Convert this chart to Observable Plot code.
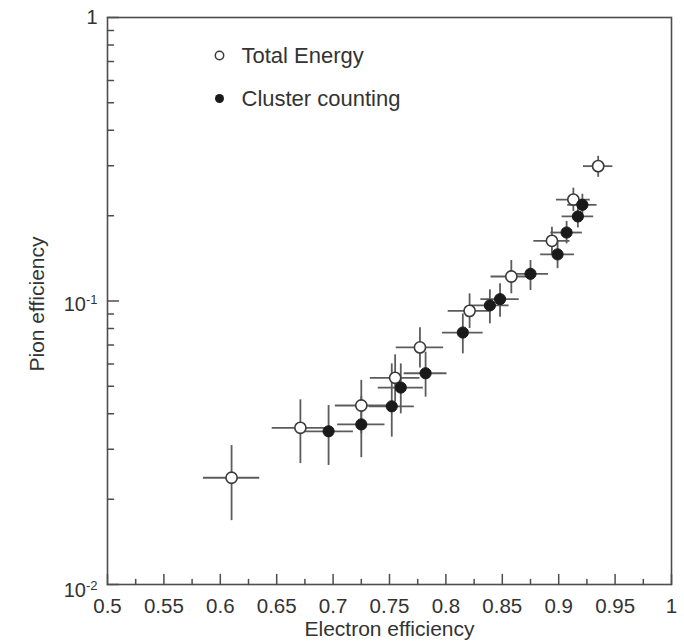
<!DOCTYPE html>
<html>
<head>
<meta charset="utf-8">
<script src="https://cdn.jsdelivr.net/npm/d3@7"></script>
<script src="https://cdn.jsdelivr.net/npm/@observablehq/plot@0.6"></script>
<style>
  html, body { margin: 0; padding: 0; background: #fff; }
  #chart svg { font-family: "Liberation Sans", Arial, Helvetica, sans-serif; }
</style>
</head>
<body>
<div id="chart"></div>
<script>
// Total Energy (open circles)
const teX    = [0.610, 0.671, 0.725, 0.755, 0.777, 0.821, 0.858, 0.894, 0.913, 0.935];
const teY    = [0.0238, 0.0357, 0.0428, 0.0536, 0.0686, 0.0923, 0.122, 0.163, 0.228, 0.299];
const teXerr = [0.025, 0.025, 0.023, 0.022, 0.021, 0.019, 0.018, 0.016, 0.015, 0.013];
const teYlo  = [0.0168, 0.0267, 0.034, 0.044, 0.058, 0.080, 0.106, 0.146, 0.207, 0.273];
const teYhi  = [0.0309, 0.0448, 0.0525, 0.0646, 0.0804, 0.106, 0.139, 0.182, 0.250, 0.324];

// Cluster counting (filled circles)
const ccX    = [0.696, 0.725, 0.752, 0.760, 0.782, 0.815, 0.839, 0.848, 0.875, 0.899, 0.907, 0.917, 0.921];
const ccY    = [0.0347, 0.0367, 0.0425, 0.0495, 0.0556, 0.0774, 0.0965, 0.1015, 0.1247, 0.146, 0.1744, 0.1987, 0.2184];
const ccXerr = [0.022, 0.021, 0.020, 0.020, 0.019, 0.018, 0.017, 0.017, 0.016, 0.015, 0.014, 0.014, 0.013];
const ccYlo  = [0.0263, 0.028, 0.0331, 0.040, 0.0458, 0.0651, 0.0831, 0.0877, 0.1089, 0.130, 0.159, 0.181, 0.200];
const ccYhi  = [0.0428, 0.046, 0.060, 0.060, 0.066, 0.090, 0.1095, 0.115, 0.139, 0.163, 0.1908, 0.218, 0.238];

// Axis ticks
const xTicks = [0.5, 0.55, 0.6, 0.65, 0.7, 0.75, 0.8, 0.85, 0.9, 0.95, 1];
const xTickLabels = ["0.5", "0.55", "0.6", "0.65", "0.7", "0.75", "0.8", "0.85", "0.9", "0.95", "1"];
const xMinor = [0.525, 0.575, 0.625, 0.675, 0.725, 0.775, 0.825, 0.875, 0.925, 0.975];
const yTicks = [0.01, 0.1, 1];
const yTickLabels = ["10^-2", "10^-1", "1"];
const yMinor = [0.02, 0.03, 0.04, 0.05, 0.06, 0.07, 0.08, 0.09, 0.2, 0.3, 0.4, 0.5, 0.6, 0.7, 0.8, 0.9];

const legendLabels = ["Total Energy", "Cluster counting"];
const xLabel = "Electron efficiency";
const yLabel = "Pion efficiency";

const mk = (X, Y, XE, YL, YH) => X.map((x, i) => ({x, y: Y[i], x1: x - XE[i], x2: x + XE[i], y1: YL[i], y2: YH[i]}));
const te = mk(teX, teY, teXerr, teYlo, teYhi);
const cc = mk(ccX, ccY, ccXerr, ccYlo, ccYhi);

const upTick = {draw(ctx, l) { ctx.moveTo(0, 0); ctx.lineTo(0, -l); }};
const rightTick = {draw(ctx, l) { ctx.moveTo(0, 0); ctx.lineTo(l, 0); }};

const axisColor = "#4d4d4d";
const barColor = "#5c5c5c";
const textColor = "#333";

const chart = Plot.plot({
  width: 684,
  height: 641,
  marginLeft: 107,
  marginRight: 13,
  marginTop: 17,
  marginBottom: 57,
  x: {domain: [0.5, 1], axis: null},
  y: {type: "log", domain: [0.01, 1], axis: null},
  marks: [
    Plot.axisX({ticks: xTicks, tickSize: 0, tickPadding: 14, fontSize: 20.5, fill: textColor, label: null,
      tickFormat: d => xTickLabels[xTicks.indexOf(d)]}),
    Plot.axisY({ticks: yTicks, tickSize: 0, tickPadding: 10, fontSize: 20, fill: textColor, label: null,
      tickFormat: d => yTickLabels[yTicks.indexOf(d)]}),
    Plot.vector(xTicks, {x: d => d, frameAnchor: "bottom", length: 10, anchor: "start", shape: upTick, stroke: axisColor, strokeWidth: 1.5}),
    Plot.vector(xMinor, {x: d => d, frameAnchor: "bottom", length: 5, anchor: "start", shape: upTick, stroke: axisColor, strokeWidth: 1.5}),
    Plot.vector(yTicks, {y: d => d, frameAnchor: "left", length: 11, anchor: "start", shape: rightTick, stroke: axisColor, strokeWidth: 1.5}),
    Plot.vector(yMinor, {y: d => d, frameAnchor: "left", length: 6, anchor: "start", shape: rightTick, stroke: axisColor, strokeWidth: 1.5}),
    Plot.frame({stroke: axisColor, strokeWidth: 1.6}),
    // error bars
    Plot.ruleX(te, {x: "x", y1: "y1", y2: "y2", stroke: barColor, strokeWidth: 1.8}),
    Plot.ruleY(te, {y: "y", x1: "x1", x2: "x2", stroke: barColor, strokeWidth: 1.8}),
    Plot.ruleX(cc, {x: "x", y1: "y1", y2: "y2", stroke: barColor, strokeWidth: 1.8}),
    Plot.ruleY(cc, {y: "y", x1: "x1", x2: "x2", stroke: barColor, strokeWidth: 1.8}),
    // points
    Plot.dot(te, {x: "x", y: "y", r: 5.6, fill: "#fff", stroke: "#3a3a3a", strokeWidth: 1.6}),
    Plot.dot(cc, {x: "x", y: "y", r: 5.6, fill: "#1a1a1a", stroke: "#1a1a1a", strokeWidth: 1}),
    // legend
    Plot.dot([legendLabels[0]], {frameAnchor: "top-left", dx: 112, dy: 38, r: 4.2, fill: "#fff", stroke: "#3a3a3a", strokeWidth: 1.5}),
    Plot.dot([legendLabels[1]], {frameAnchor: "top-left", dx: 112, dy: 81, r: 4.5, fill: "#1a1a1a"}),
    Plot.text([legendLabels[0]], {text: d => d, frameAnchor: "top-left", dx: 134, dy: 38, textAnchor: "start", lineAnchor: "middle", fontSize: 22, fill: textColor}),
    Plot.text([legendLabels[1]], {text: d => d, frameAnchor: "top-left", dx: 134, dy: 81, textAnchor: "start", lineAnchor: "middle", fontSize: 22, fill: textColor}),
    // axis titles
    Plot.text([xLabel], {text: d => d, frameAnchor: "bottom", dy: 45, textAnchor: "middle", lineAnchor: "middle", fontSize: 21, fill: textColor}),
    Plot.text([yLabel], {text: d => d, frameAnchor: "left", dx: -70, dy: 3, rotate: -90, textAnchor: "middle", lineAnchor: "middle", fontSize: 21, fill: textColor})
  ]
});

// render y tick labels "10^-n" as 10 with a superscript exponent
d3.select(chart).selectAll('g[aria-label="y-axis tick label"] text').each(function() {
  const s = this.textContent;
  const k = s.indexOf("^");
  if (k < 0) return;
  const base = s.slice(0, k), exp = s.slice(k + 1);
  const t = d3.select(this);
  t.text(base);
  t.append("tspan").attr("dy", "-0.55em").attr("font-size", "13px").text(exp);
  if (exp === "-2") t.attr("transform", (t.attr("transform") || "") + " translate(0,6)");
  else t.attr("transform", (t.attr("transform") || "") + " translate(0,4)");
});

document.getElementById("chart").appendChild(chart);
</script>
</body>
</html>
